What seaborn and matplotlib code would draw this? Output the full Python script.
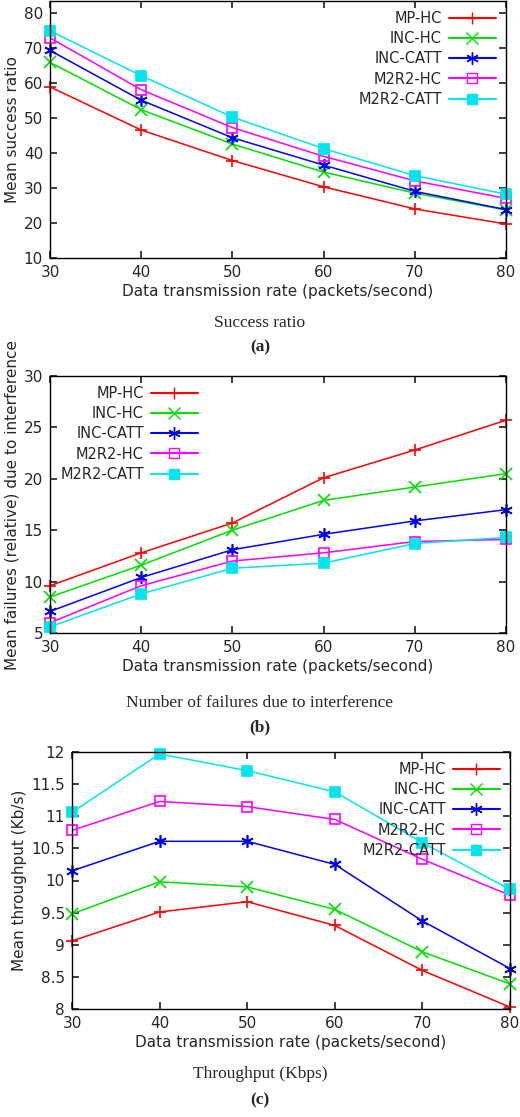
import matplotlib
matplotlib.use("Agg")
import matplotlib.pyplot as plt
import seaborn as sns
import pandas as pd

sns.set_theme(style="ticks")
plt.rcParams['font.family'] = ['DejaVu Sans']

rates = [30, 40, 50, 60, 70, 80]
series = ["MP-HC", "INC-HC", "INC-CATT", "M2R2-HC", "M2R2-CATT"]

succ_mp = [58.8, 46.5, 37.8, 30.3, 24.0, 19.7]
succ_inchc = [65.8, 52.3, 42.5, 34.5, 28.5, 23.7]
succ_inccatt = [69.2, 55.0, 44.3, 36.5, 29.0, 23.8]
succ_m2hc = [72.8, 58.0, 47.2, 39.0, 32.0, 27.0]
succ_m2catt = [74.8, 62.0, 50.2, 41.2, 33.5, 28.2]

fail_mp = [9.6, 12.8, 15.7, 20.1, 22.8, 25.7]
fail_inchc = [8.5, 11.6, 15.0, 17.9, 19.2, 20.5]
fail_inccatt = [7.1, 10.4, 13.1, 14.6, 15.9, 17.0]
fail_m2hc = [6.0, 9.6, 12.0, 12.8, 13.9, 14.1]
fail_m2catt = [5.6, 8.8, 11.3, 11.8, 13.7, 14.3]

thr_mp = [9.06, 9.51, 9.67, 9.30, 8.60, 8.03]
thr_inchc = [9.48, 9.98, 9.90, 9.55, 8.89, 8.39]
thr_inccatt = [10.15, 10.61, 10.61, 10.25, 9.37, 8.63]
thr_m2hc = [10.78, 11.23, 11.15, 10.95, 10.33, 9.77]
thr_m2catt = [11.06, 11.97, 11.71, 11.38, 10.59, 9.86]

colors = ["#ff0000", "#00e000", "#0000ff", "#ff00ff", "#00e5ee"]
markers = ["+", "x", (6, 2, 0), "s", "s"]
filled = [True, True, True, False, True]

def frame(vals):
    rows = []
    for s, v in zip(series, vals):
        for r, y in zip(rates, v):
            rows.append({"rate": r, "value": y, "series": s})
    return pd.DataFrame(rows)

fig = plt.figure(figsize=(5.2, 11.17), dpi=100)
W, H = 520, 1117
def add_ax(l, t, r, b):
    return fig.add_axes([l / W, 1 - b / H, (r - l) / W, (b - t) / H])

panels = [
    (add_ax(50, 1, 506, 258), [succ_mp, succ_inchc, succ_inccatt, succ_m2hc, succ_m2catt],
     (10, 83.3), range(10, 81, 10), "Mean success ratio", "upper right",
     "Success ratio", "(a)", 323, 347),
    (add_ax(50, 376, 506, 633), [fail_mp, fail_inchc, fail_inccatt, fail_m2hc, fail_m2catt],
     (5, 30), range(5, 31, 5), "Mean failures (relative) due to interference", "upper left",
     "Number of failures due to interference", "(b)", 703, 727),
    (add_ax(72, 752, 510, 1009), [thr_mp, thr_inchc, thr_inccatt, thr_m2hc, thr_m2catt],
     (8, 12), [8, 8.5, 9, 9.5, 10, 10.5, 11, 11.5, 12], "Mean throughput (Kb/s)", "upper right",
     "Throughput (Kbps)", "(c)", 1074, 1100),
]

for ax, vals, ylim, yt, ylab, loc, cap, tag, ycap, ytag in panels:
    df = frame(vals)
    sns.lineplot(data=df, x="rate", y="value", hue="series", palette=colors,
                 ax=ax, legend=False, linewidth=1.1)
    for i, s in enumerate(series):
        sub = df[df.series == s]
        ax.plot(sub.rate, sub.value, linestyle="none", marker=markers[i],
                markersize=9 if i < 3 else 7.5,
                markeredgewidth=1.2, color=colors[i],
                markerfacecolor=colors[i] if filled[i] else "none", clip_on=False)
    ax.set_xlim(30, 80)
    ax.set_ylim(*ylim)
    ax.set_xticks(rates)
    ax.set_yticks(list(yt))
    ax.set_yticklabels([f"{t:g}" for t in yt])
    ax.set_ylabel(ylab, fontsize=11, labelpad=3)
    ax.set_xlabel("Data transmission rate (packets/second)", fontsize=11, labelpad=3)
    ax.tick_params(direction="in", labelsize=11, top=True, right=True, length=5, pad=5)
    for sp in ax.spines.values():
        sp.set_linewidth(1.0)
        sp.set_color("black")
    handles = []
    for i, s in enumerate(series):
        h, = ax.plot([], [], color=colors[i], marker=markers[i], markersize=9 if i < 3 else 7.5,
                     markerfacecolor=colors[i] if filled[i] else "none", label=s)
        handles.append(h)
    ax.legend(handles=handles, loc=loc, frameon=False, fontsize=10.5, markerfirst=False,
              handlelength=3.2, borderaxespad=0.3, labelspacing=0.35, handletextpad=0.5)
    fig.text(0.5, 1 - ycap / H, cap, ha="center", va="center", fontsize=12.5, family="Liberation Serif")
    fig.text(0.5, 1 - ytag / H, tag, ha="center", va="center", fontsize=12.5, family="Liberation Serif",
             fontweight="bold")

fig.savefig("out.png", dpi=100)
